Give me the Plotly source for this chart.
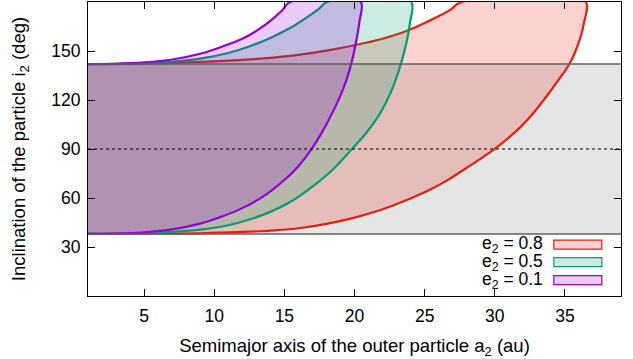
import plotly.graph_objects as go

# ---- data ----
red_low_a = [1, 5, 9, 12, 14, 16, 18, 20, 21.9, 23, 24.2, 25.4, 26.6, 28, 29.95, 31, 31.9, 32.8, 33.8, 34.6, 35.1, 35.5, 35.85, 36.15, 36.35, 36.5]
red_low_i = [38, 38.1, 38.4, 39.2, 40, 41.5, 44.2, 48, 52.8, 56.3, 60.5, 65.2, 70.8, 78.5, 89.8, 97, 104, 112.5, 123.5, 133, 139, 145, 152, 159.5, 167, 180]
red_up_a = [1, 5, 9, 12, 14, 16, 18, 20, 22, 23.8, 25.7, 26.8, 27.6]
red_up_i = [142, 142.3, 143.3, 144.6, 145.8, 147.6, 150.2, 153.5, 157.5, 162.5, 170, 175, 180]

green_low_a = [1, 3, 5, 7, 9, 11, 12.5, 14, 15.5, 17, 18.5, 19.8, 20.8, 21.8, 22.6, 23.3, 23.7, 23.95, 24.05]
green_low_i = [38, 38.1, 38.5, 39.3, 40.6, 43.3, 46.8, 51.5, 58, 67, 77.8, 89.8, 99.5, 111.5, 125, 142, 155, 167, 180]
green_up_a = [1, 3, 5, 7, 9, 11, 12.5, 14, 15.5, 16.5, 17.4, 18.05]
green_up_i = [142, 142.1, 142.6, 143.5, 145.3, 148.8, 152.8, 158, 164.5, 170, 175.3, 180]

purple_low_a = [1, 3, 5, 7, 9, 10.5, 12, 13.5, 15, 16, 16.9, 17.7, 18.5, 19.2, 19.7, 20.1, 20.35, 20.45]
purple_low_i = [38, 38.2, 39, 40.8, 44.3, 48.5, 53.8, 61, 71, 79.5, 89.5, 100.5, 113.5, 127, 140, 155, 168, 180]
purple_up_a = [1, 3, 5, 7, 9, 10.5, 12, 13, 14, 14.8, 15.4]
purple_up_i = [142, 142.2, 143, 144.8, 148.3, 152.5, 157.5, 162.3, 168.5, 174.5, 180]

series_names = ["e<sub>2</sub> = 0.8", "e<sub>2</sub> = 0.5", "e<sub>2</sub> = 0.1"]
series_colors = ["#e51e10", "#009e73", "#9400d3"]
series_fills = ["rgba(229,30,16,0.2)", "rgba(0,158,115,0.2)", "rgba(148,0,211,0.2)"]

BAND_LOW, BAND_HIGH = 38, 142
x_ticks = [5, 10, 15, 20, 25, 30, 35]
y_ticks = [30, 60, 90, 120, 150]
X_RANGE = [1, 39]
Y_RANGE = [0, 180]

FONT = "Liberation Sans, Arial, sans-serif"

fig = go.Figure()

curves = [
    (red_low_a, red_low_i, red_up_a, red_up_i),
    (green_low_a, green_low_i, green_up_a, green_up_i),
    (purple_low_a, purple_low_i, purple_up_a, purple_up_i),
]
for (la, li, ua, ui), name, col, fc in zip(curves, series_names, series_colors, series_fills):
    xs = list(la) + list(reversed(ua))
    ys = list(li) + list(reversed(ui))
    fig.add_trace(go.Scatter(
        x=xs, y=ys, mode="lines", fill="toself", fillcolor=fc,
        line=dict(color=col, width=2.2, shape="spline", smoothing=0.8),
        name=name, showlegend=False, hoverinfo="skip"))

# gray band and reference lines
fig.add_shape(type="rect", xref="paper", x0=0, x1=1, yref="y", y0=BAND_LOW, y1=BAND_HIGH,
              fillcolor="#e5e5e5", line=dict(width=0), layer="below")
for yv in (BAND_LOW, BAND_HIGH):
    fig.add_shape(type="line", xref="paper", x0=0, x1=1, yref="y", y0=yv, y1=yv,
                  line=dict(color="#606060", width=1.5), layer="above")
fig.add_shape(type="line", xref="paper", x0=0, x1=1, yref="y", y0=90, y1=90,
              line=dict(color="black", width=1, dash="dot"), layer="above")

# custom legend (text left of sample box, like gnuplot)
row_y = [0.175, 0.115, 0.054]
for name, col, fc, ry in zip(series_names, series_colors, series_fills, row_y):
    fig.add_annotation(xref="paper", yref="paper", x=0.858, y=ry, text=name,
                       xanchor="right", yanchor="middle", showarrow=False,
                       font=dict(size=17.5, color="black", family=FONT))
    fig.add_shape(type="rect", xref="paper", yref="paper", x0=0.874, x1=0.964,
                  y0=ry - 0.0153, y1=ry + 0.0153, fillcolor=fc,
                  line=dict(color=col, width=1.2), layer="above")

axis_common = dict(showline=True, linecolor="black", linewidth=1, mirror="ticks",
                   ticks="inside", ticklen=7, tickcolor="black", tickwidth=1,
                   showgrid=False, zeroline=False,
                   tickfont=dict(size=17.5, color="black", family=FONT))
fig.update_xaxes(range=X_RANGE, tickvals=x_ticks, ticklabelstandoff=4, **axis_common,
                 title=dict(text="Semimajor axis of the outer particle a<sub>2</sub> (au)",
                            font=dict(size=18.5, color="black", family=FONT), standoff=16))
fig.update_yaxes(range=Y_RANGE, tickvals=y_ticks, ticklabelstandoff=3, **axis_common,
                 title=dict(text="Inclination of the particle i<sub>2</sub> (deg)",
                            font=dict(size=18.5, color="black", family=FONT), standoff=20))

fig.update_layout(width=633, height=359, margin=dict(l=88, r=12, t=2, b=63),
                  plot_bgcolor="white", paper_bgcolor="white",
                  font=dict(family=FONT, size=17.5, color="black"),
                  showlegend=False)

fig.write_html("out.html")
